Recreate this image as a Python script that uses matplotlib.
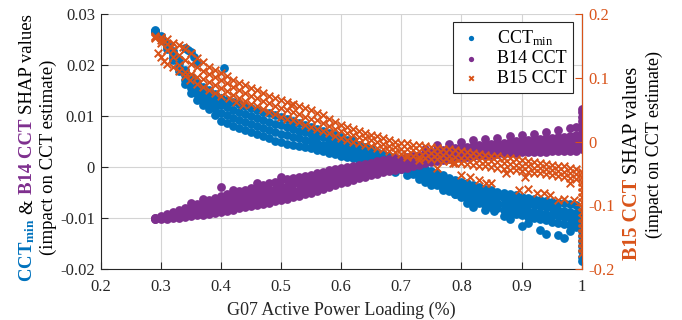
import numpy as np
import matplotlib
matplotlib.use("Agg")
import matplotlib.pyplot as plt

plt.rcParams['font.family'] = ['Liberation Serif', 'DejaVu Serif']
plt.rcParams['mathtext.fontset'] = 'custom'
plt.rcParams['mathtext.rm'] = 'Liberation Serif'
plt.rcParams['mathtext.bf'] = 'Liberation Serif:bold'
plt.rcParams['mathtext.it'] = 'Liberation Serif:italic'
plt.rcParams['axes.unicode_minus'] = False

BLUE = '#0072BD'
ORANGE = '#D95319'
PURPLE = '#7E2F8E'

# G07 active power loading (x), one column every 0.01
load = [0.29, 0.30, 0.31, 0.32, 0.33, 0.34, 0.35, 0.36, 0.37, 0.38, 0.39,
        0.40, 0.41, 0.42, 0.43, 0.44, 0.45, 0.46, 0.47, 0.48, 0.49,
        0.50, 0.51, 0.52, 0.53, 0.54, 0.55, 0.56, 0.57, 0.58, 0.59,
        0.60, 0.61, 0.62, 0.63, 0.64, 0.65, 0.66, 0.67, 0.68, 0.69,
        0.70, 0.71, 0.72, 0.73, 0.74, 0.75, 0.76, 0.77, 0.78, 0.79,
        0.80, 0.81, 0.82, 0.83, 0.84, 0.85, 0.86, 0.87, 0.88, 0.89,
        0.90, 0.91, 0.92, 0.93, 0.94, 0.95, 0.96, 0.97, 0.98, 0.99]

# CCT_min SHAP values (x 1e-3), rows from top of band to bottom
cct_r1 = [26.8, 25.6, 24.2, 22.8, 21.2, 19.0, 17.6, 16.5, 15.7, 15.0, 14.3,
          13.6, 13.2, 12.8, 12.4, 12.0, 11.6, 11.2, 10.8, 10.5, 10.2,
          9.8, 9.4, 9.0, 8.6, 8.3, 7.9, 7.5, 7.1, 6.6, 6.2,
          5.8, 5.3, 4.9, 4.4, 4.0, 3.5, 3.0, 2.6, 2.1, 1.7,
          1.2, 0.8, 0.4, 0.0, -0.4, -0.8, -1.2, -1.6, -2.1, -2.5,
          -2.9, -3.2, -3.5, -3.9, -4.2, -4.5, -4.8, -5.0, -5.3, -5.5,
          -5.8, -6.0, -6.2, -6.4, -6.6, -6.8, -7.0, -7.1, -7.3, -7.5]
cct_r2 = [26.7, 25.4, 23.9, 22.2, 20.4, 18.1, 16.6, 15.4, 14.5, 13.8, 12.9,
          12.1, 11.7, 11.2, 10.8, 10.4, 10.0, 9.6, 9.2, 8.9, 8.5,
          8.2, 7.8, 7.5, 7.1, 6.8, 6.5, 6.1, 5.8, 5.3, 5.0,
          4.6, 4.2, 3.8, 3.4, 3.0, 2.6, 2.2, 1.8, 1.4, 1.1,
          0.7, 0.3, -0.2, -0.6, -1.1, -1.5, -2.0, -2.4, -3.0, -3.4,
          -3.9, -4.2, -4.6, -4.9, -5.3, -5.6, -5.9, -6.1, -6.5, -6.7,
          -7.0, -7.2, -7.4, -7.7, -7.9, -8.1, -8.3, -8.5, -8.7, -8.9]
cct_r3 = [26.6, 25.2, 23.5, 21.6, 19.6, 17.1, 15.5, 14.3, 13.4, 12.5, 11.5,
          10.6, 10.1, 9.7, 9.2, 8.8, 8.4, 8.0, 7.6, 7.2, 6.9,
          6.5, 6.2, 5.9, 5.7, 5.4, 5.1, 4.8, 4.4, 4.1, 3.7,
          3.4, 3.0, 2.8, 2.4, 2.1, 1.7, 1.4, 1.1, 0.8, 0.4,
          0.1, -0.3, -0.7, -1.2, -1.7, -2.2, -2.7, -3.3, -3.8, -4.4,
          -4.9, -5.3, -5.6, -6.0, -6.3, -6.7, -7.0, -7.3, -7.6, -7.9,
          -8.2, -8.5, -8.7, -8.9, -9.1, -9.4, -9.6, -9.8, -10.0, -10.3]
cct_r4 = [26.5, 25.0, 23.2, 21.0, 18.8, 16.2, 14.5, 13.2, 12.2, 11.3, 10.1,
          9.1, 8.6, 8.1, 7.6, 7.2, 6.8, 6.4, 6.0, 5.6, 5.2,
          4.9, 4.6, 4.4, 4.2, 3.9, 3.7, 3.4, 3.1, 2.8, 2.5,
          2.2, 1.9, 1.7, 1.4, 1.1, 0.8, 0.6, 0.3, 0.1, -0.2,
          -0.4, -0.8, -1.3, -1.8, -2.4, -2.9, -3.5, -4.1, -4.7, -5.3,
          -5.9, -6.3, -6.7, -7.0, -7.4, -7.8, -8.1, -8.4, -8.8, -9.1,
          -9.4, -9.7, -9.9, -10.2, -10.4, -10.7, -10.9, -11.2, -11.4, -11.7]

# B14 CCT SHAP values (x 1e-3)
b14_r1 = [-9.9, -9.6, -9.2, -8.8, -8.4, -8.0, -7.6, -7.2, -6.8, -6.4, -6.0,
          -5.6, -5.3, -5.0, -4.7, -4.4, -4.1, -3.8, -3.5, -3.2, -2.9,
          -2.6, -2.4, -2.2, -2.0, -1.8, -1.5, -1.2, -0.9, -0.6, -0.4,
          -0.1, 0.1, 0.3, 0.5, 0.7, 0.9, 1.1, 1.3, 1.5, 1.7,
          1.8, 2.0, 2.2, 2.4, 2.6, 2.9, 3.1, 3.3, 3.5, 3.7,
          3.9, 4.0, 4.2, 4.3, 4.4, 4.6, 4.7, 4.8, 4.9, 5.1,
          5.2, 5.3, 5.4, 5.5, 5.6, 5.7, 5.8, 5.9, 6.1, 6.2]
b14_r2 = [-10.0, -9.8, -9.5, -9.2, -8.9, -8.6, -8.3, -7.9, -7.6, -7.3, -7.0,
          -6.6, -6.4, -6.1, -5.8, -5.6, -5.3, -5.0, -4.7, -4.5, -4.2,
          -3.9, -3.7, -3.4, -3.2, -3.0, -2.7, -2.3, -2.0, -1.7, -1.4,
          -1.1, -0.9, -0.7, -0.4, -0.2, 0.1, 0.3, 0.5, 0.7, 0.9,
          1.1, 1.3, 1.5, 1.8, 2.0, 2.3, 2.5, 2.7, 2.9, 3.1,
          3.2, 3.3, 3.5, 3.6, 3.7, 3.9, 4.0, 4.1, 4.2, 4.3,
          4.4, 4.5, 4.5, 4.7, 4.7, 4.8, 4.9, 5.0, 5.1, 5.2]
b14_r3 = [-10.1, -10.0, -9.8, -9.6, -9.4, -9.2, -8.9, -8.7, -8.5, -8.2, -7.9,
          -7.7, -7.4, -7.2, -7.0, -6.7, -6.4, -6.2, -6.0, -5.7, -5.4,
          -5.2, -4.9, -4.7, -4.4, -4.1, -3.8, -3.5, -3.2, -2.8, -2.5,
          -2.2, -1.9, -1.6, -1.3, -1.0, -0.8, -0.5, -0.2, 0.0, 0.2,
          0.4, 0.6, 0.9, 1.1, 1.4, 1.6, 1.8, 2.0, 2.2, 2.4,
          2.6, 2.7, 2.8, 2.9, 3.0, 3.1, 3.2, 3.3, 3.4, 3.6,
          3.7, 3.7, 3.8, 3.8, 3.9, 4.0, 4.0, 4.0, 4.2, 4.2]
b14_r4 = [-10.2, -10.2, -10.1, -10.0, -9.9, -9.8, -9.6, -9.4, -9.3, -9.1, -8.9,
          -8.7, -8.5, -8.3, -8.1, -7.9, -7.6, -7.4, -7.2, -7.0, -6.7,
          -6.5, -6.2, -5.9, -5.6, -5.3, -5.0, -4.6, -4.3, -3.9, -3.5,
          -3.2, -2.9, -2.6, -2.2, -1.9, -1.6, -1.3, -1.0, -0.8, -0.5,
          -0.3, -0.1, 0.2, 0.5, 0.8, 1.0, 1.2, 1.4, 1.6, 1.8,
          1.9, 2.0, 2.1, 2.2, 2.3, 2.4, 2.5, 2.6, 2.7, 2.8,
          2.9, 2.9, 3.0, 3.0, 3.0, 3.1, 3.1, 3.1, 3.2, 3.2]

# B15 CCT SHAP values (x 1e-2, right axis)
b15_r1 = [16.6, 16.4, 16.0, 15.5, 15.1, 14.5, 13.8, 13.1, 12.4, 11.7, 11.2,
          10.7, 10.2, 9.7, 9.2, 8.8, 8.4, 8.0, 7.6, 7.2, 6.8,
          6.5, 6.2, 5.9, 5.6, 5.2, 4.9, 4.5, 4.1, 3.6, 3.1,
          2.6, 2.3, 2.0, 1.7, 1.4, 1.1, 0.8, 0.5, 0.2, 0.0,
          -0.2, -0.3, -0.5, -0.6, -0.7, -0.8, -1.0, -1.1, -1.2, -1.4,
          -1.5, -1.6, -1.8, -1.9, -2.1, -2.2, -2.3, -2.5, -2.6, -2.8,
          -2.9, -3.0, -3.2, -3.3, -3.5, -3.6, -3.8, -3.9, -4.1, -4.3]
b15_r2 = [16.4, 15.9, 15.2, 14.4, 13.6, 12.7, 12.2, 11.6, 11.1, 10.6, 10.1,
          9.6, 9.1, 8.5, 8.0, 7.6, 7.2, 6.8, 6.4, 6.0, 5.6,
          5.2, 4.9, 4.6, 4.3, 3.9, 3.6, 3.3, 2.9, 2.5, 2.0,
          1.6, 1.3, 1.0, 0.7, 0.5, 0.2, -0.1, -0.4, -0.7, -0.9,
          -1.1, -1.2, -1.4, -1.5, -1.6, -1.8, -1.9, -2.1, -2.2, -2.4,
          -2.5, -2.6, -2.7, -2.9, -3.0, -3.1, -3.2, -3.4, -3.5, -3.7,
          -3.8, -3.9, -4.1, -4.2, -4.3, -4.5, -4.6, -4.8, -4.9, -5.1]
b15_r3 = [16.2, 15.4, 14.4, 13.3, 12.0, 10.9, 10.5, 10.1, 9.8, 9.4, 8.9,
          8.4, 7.9, 7.3, 6.8, 6.3, 5.9, 5.5, 5.1, 4.7, 4.3,
          3.9, 3.6, 3.3, 3.0, 2.6, 2.3, 2.0, 1.6, 1.3, 0.9,
          0.6, 0.3, 0.0, -0.3, -0.5, -0.7, -1.0, -1.2, -1.5, -1.7,
          -1.9, -2.1, -2.2, -2.4, -2.5, -2.7, -2.8, -3.0, -3.1, -3.3,
          -3.4, -3.5, -3.6, -3.8, -3.9, -4.0, -4.1, -4.3, -4.4, -4.5,
          -4.6, -4.7, -4.9, -5.0, -5.1, -5.3, -5.4, -5.6, -5.7, -5.9]

# scattered points off the main bands
cct_out_x = [0.34, 0.345, 0.35, 0.355, 0.36, 0.406, 0.52, 0.57, 0.62,
             0.66, 0.69, 0.71, 0.73, 0.74, 0.75, 0.77, 0.79, 0.81, 0.82,
             0.84, 0.855, 0.87, 0.88, 0.90, 0.91, 0.93, 0.94, 0.96, 0.97, 0.98]
cct_out_y = [23.3, 22.9, 22.5, 21.5, 20.3, 19.4, 8.3, 6.8, 5.3,
             0.2, -0.9, -1.5, -2.3, -3.0, -3.6, -4.5, -5.2, -7.0, -7.8,
             -8.3, -8.6, -9.6, -10.2, -11.5, -11.0, -12.4, -13.0, -13.3, -13.8, -12.6]
b14_out_x = [0.35, 0.37, 0.40, 0.42, 0.46, 0.50, 0.74, 0.76, 0.78, 0.80,
             0.82, 0.84, 0.86, 0.88, 0.90, 0.92, 0.94, 0.96, 0.98, 0.99]
b14_out_y = [-7.1, -6.3, -3.9, -4.4, -3.2, -2.0, 3.6, 4.3, 4.5, 5.0,
             5.3, 5.5, 5.7, 6.0, 6.3, 6.5, 6.8, 7.2, 7.6, 7.8]
b15_out_x = [0.295, 0.30, 0.305, 0.31, 0.32, 0.33, 0.34, 0.348, 0.36, 0.37,
             0.381, 0.39, 0.40, 0.414, 0.425, 0.437, 0.318, 0.337, 0.516,
             0.71, 0.73, 0.76, 0.786, 0.80, 0.814, 0.83, 0.841, 0.85, 0.874,
             0.896, 0.905, 0.91, 0.926, 0.937, 0.948, 0.96, 0.97, 0.98, 0.987]
b15_out_y = [13.8, 13.2, 12.6, 12.2, 11.6, 11.0, 10.2, 9.6, 9.0, 8.5,
             8.1, 7.6, 7.2, 6.8, 6.2, 5.7, 14.8, 14.8, 5.8,
             -2.4, -2.9, -4.2, -3.4, -5.2, -5.5, -6.0, -6.5, -6.5, -5.0,
             -7.6, -5.6, -7.4, -8.1, -8.1, -8.4, -9.2, -9.0, -6.5, -9.2]

# vertical clusters at full loading
end_cct = [-8.5, -9.5, -10.5, -11.5, -12.5, -13.5, -14.5, -15.5, -16.5, -17.5, -18.3]
end_b14 = [3.5, 4.3, 5.1, 5.9, 6.7, 7.5, 8.3, 9.1, 9.9, 10.7, 11.3]
end_b15 = [-4.7, -5.5, -6.3, -7.1, -7.9, -8.7, -9.5, -10.3, -11.1, -11.9, -12.7,
           -13.5, -14.3, -15.1, -15.9, -16.7, -17.4]

W, H = 682, 320


def stacked_label(fig, x_px, y_px, pieces, size):
	renderer = fig.canvas.get_renderer()
	gap = size * 0.25 * 100 / 72
	y = y_px
	for text, color, weight in pieces:
		t = fig.text(x_px / W, 1 - y / H, text, rotation=90, rotation_mode='anchor',
		             ha='left', va='baseline', color=color, fontweight=weight, fontsize=size)
		bb = t.get_window_extent(renderer)
		y -= bb.height + gap


def main():
	fig = plt.figure(figsize=(W / 100, H / 100), dpi=100)
	ax1 = fig.add_axes([100.5 / W, 1 - 269.3 / H, 481.2 / W, 255.5 / H])
	ax2 = ax1.twinx()

	x = np.array(load)
	dot = dict(s=40, linewidths=0)
	for row in [cct_r1, cct_r2, cct_r3, cct_r4]:
		ax1.scatter(x, np.array(row) * 1e-3, color=BLUE, **dot)
	ax1.scatter(cct_out_x, np.array(cct_out_y) * 1e-3, color=BLUE, **dot)
	h1 = ax1.scatter(np.ones(len(end_cct)), np.array(end_cct) * 1e-3, color=BLUE, **dot)
	for row in [b14_r1, b14_r2, b14_r3, b14_r4]:
		ax1.scatter(x, np.array(row) * 1e-3, color=PURPLE, **dot)
	ax1.scatter(b14_out_x, np.array(b14_out_y) * 1e-3, color=PURPLE, **dot)
	h2 = ax1.scatter(np.ones(len(end_b14)), np.array(end_b14) * 1e-3, color=PURPLE, **dot)

	cross = dict(s=30, marker='x', linewidths=1.4)
	for row in [b15_r1, b15_r2, b15_r3]:
		ax2.scatter(x, np.array(row) * 1e-2, color=ORANGE, **cross)
	ax2.scatter(b15_out_x, np.array(b15_out_y) * 1e-2, color=ORANGE, **cross)
	h3 = ax2.scatter(np.ones(len(end_b15)), np.array(end_b15) * 1e-2, color=ORANGE, **cross)

	ax1.set_xlim(0.2, 1.0)
	ax1.set_ylim(-0.02, 0.03)
	ax2.set_ylim(-0.2, 0.2)
	xt = [0.2, 0.3, 0.4, 0.5, 0.6, 0.7, 0.8, 0.9, 1.0]
	ax1.set_xticks(xt)
	ax1.set_xticklabels(['%g' % v for v in xt])
	yt = [-0.02, -0.01, 0, 0.01, 0.02, 0.03]
	ax1.set_yticks(yt)
	ax1.set_yticklabels(['%g' % v for v in yt])
	yt2 = [-0.2, -0.1, 0, 0.1, 0.2]
	ax2.set_yticks(yt2)
	ax2.set_yticklabels(['%g' % v for v in yt2])

	ax1.grid(True, color='#d4d4d4', linewidth=0.8)
	ax1.set_axisbelow(True)
	for a in (ax1, ax2):
		a.spines['top'].set_visible(False)
	ax1.spines['left'].set_color('#262626')
	ax1.spines['bottom'].set_color('#262626')
	ax2.spines['left'].set_visible(False)
	ax2.spines['bottom'].set_visible(False)
	ax2.spines['right'].set_color(ORANGE)
	ax1.tick_params(axis='x', direction='in', length=5, pad=7, labelsize=12, colors='#262626')
	ax1.tick_params(axis='y', direction='in', length=5, pad=4, labelsize=12, colors='#262626')
	ax2.tick_params(axis='y', direction='in', length=5, pad=4.5, labelsize=12, colors=ORANGE)

	ax1.set_xlabel('G07 Active Power Loading (%)', fontsize=13, color='#262626', labelpad=5)

	leg = ax2.legend([h1, h2, h3], ['CCT$_{\\mathregular{min}}$', 'B14 CCT', 'B15 CCT'],
	                 loc='upper right', bbox_to_anchor=(0.9825, 0.969), borderaxespad=0,
	                 fontsize=13, fancybox=False, framealpha=1, edgecolor='#262626',
	                 handletextpad=0.8, labelspacing=0.15, borderpad=0.35, handlelength=1.3,
	                 markerscale=0.6)
	leg.get_frame().set_linewidth(0.8)

	stacked_label(fig, 32, 282, [('$\\mathbf{CCT_{min}}$', BLUE, 'bold'), ('&', 'black', 'normal'),
	                             ('B14 CCT', PURPLE, 'bold'), ('SHAP values', 'black', 'normal')], 13.5)
	stacked_label(fig, 53, 255, [('(impact on CCT estimate)', 'black', 'normal')], 13.5)
	stacked_label(fig, 637, 260, [('B15 CCT', ORANGE, 'bold'), ('SHAP values', 'black', 'normal')], 14.5)
	stacked_label(fig, 659, 238, [('(impact on CCT estimate)', 'black', 'normal')], 13)

	fig.savefig('out.png', dpi=100)


if __name__ == "__main__":
	main()
